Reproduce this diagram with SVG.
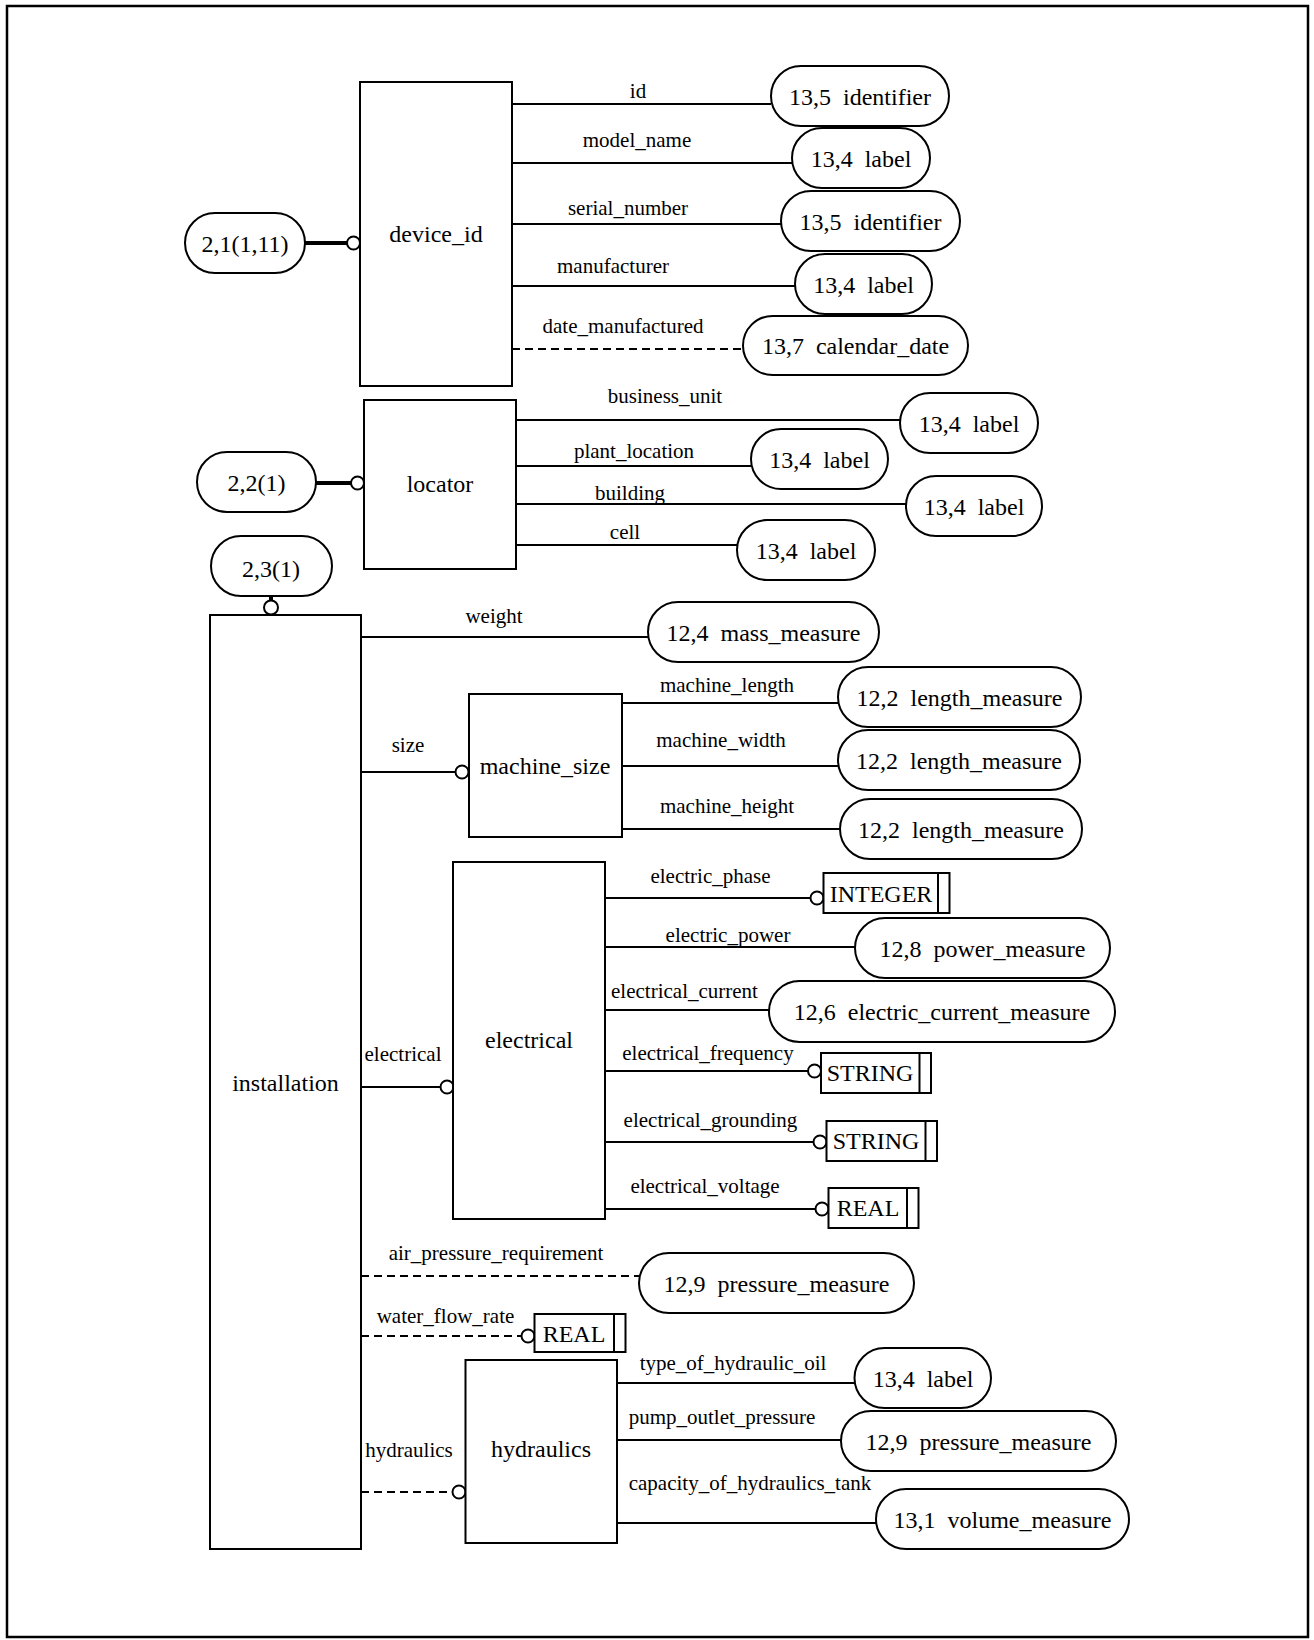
<svg xmlns="http://www.w3.org/2000/svg" width="1314" height="1640" viewBox="0 0 1314 1640">
  <style>
    .frame { fill: none; stroke: #000; stroke-width: 2.5; }
    .box { fill: #fff; stroke: #000; stroke-width: 2; }
    .ln { fill: none; stroke: #000; stroke-width: 2; }
    .dash { stroke-dasharray: 8 5; }
    .thick { stroke-width: 4; }
    .dot { fill: #fff; stroke: #000; stroke-width: 2; }
    text { font-family: "Liberation Serif", "Times New Roman", serif; fill: #000; text-anchor: middle; }
    .nm { font-size: 24px; }
    .lbl { font-size: 21px; }
  </style>

  <rect class="frame" x="7" y="6" width="1301" height="1631"/>

  <!-- relationship lines and attribute labels -->
  <g id="connectors">
    <!-- device_id -->
    <line class="ln thick" x1="305" y1="243" x2="350" y2="243"/>
    <line class="ln" x1="512" y1="104" x2="771" y2="104"/>
    <line class="ln" x1="512" y1="163" x2="792" y2="163"/>
    <line class="ln" x1="512" y1="224" x2="781" y2="224"/>
    <line class="ln" x1="512" y1="286" x2="795" y2="286"/>
    <line class="ln dash" x1="512" y1="349" x2="743" y2="349"/>
    <text class="lbl" x="638" y="98">id</text>
    <text class="lbl" x="637" y="147">model_name</text>
    <text class="lbl" x="628" y="215">serial_number</text>
    <text class="lbl" x="613" y="273">manufacturer</text>
    <text class="lbl" x="623" y="333">date_manufactured</text>
    <circle class="dot" cx="353.5" cy="243" r="6.5"/>

    <!-- locator -->
    <line class="ln thick" x1="316" y1="483" x2="354" y2="483"/>
    <line class="ln" x1="516" y1="420" x2="900" y2="420"/>
    <line class="ln" x1="516" y1="466" x2="751" y2="466"/>
    <line class="ln" x1="516" y1="504" x2="906" y2="504"/>
    <line class="ln" x1="516" y1="545" x2="737" y2="545"/>
    <text class="lbl" x="665" y="403">business_unit</text>
    <text class="lbl" x="634" y="458">plant_location</text>
    <text class="lbl" x="630" y="500">building</text>
    <text class="lbl" x="625" y="539">cell</text>
    <circle class="dot" cx="357.5" cy="483" r="6.5"/>

    <!-- installation -->
    <line class="ln thick" x1="271" y1="596" x2="271" y2="602"/>
    <circle class="dot" cx="271" cy="607.5" r="7"/>
    <line class="ln" x1="361" y1="637" x2="648" y2="637"/>
    <text class="lbl" x="494" y="623">weight</text>
    <line class="ln" x1="361" y1="772" x2="462" y2="772"/>
    <circle class="dot" cx="462" cy="772" r="6.5"/>
    <text class="lbl" x="408" y="752">size</text>
    <line class="ln" x1="361" y1="1087" x2="447" y2="1087"/>
    <circle class="dot" cx="447" cy="1087" r="6.5"/>
    <text class="lbl" x="403" y="1061">electrical</text>
    <line class="ln dash" x1="361" y1="1276" x2="639" y2="1276"/>
    <text class="lbl" x="496" y="1260">air_pressure_requirement</text>
    <line class="ln dash" x1="361" y1="1336" x2="528" y2="1336"/>
    <circle class="dot" cx="528" cy="1336" r="6.5"/>
    <text class="lbl" x="445.5" y="1323">water_flow_rate</text>
    <line class="ln dash" x1="361" y1="1492" x2="459" y2="1492"/>
    <circle class="dot" cx="459" cy="1492" r="6.5"/>
    <text class="lbl" x="409" y="1457">hydraulics</text>

    <!-- machine_size -->
    <line class="ln" x1="622" y1="703" x2="838" y2="703"/>
    <line class="ln" x1="622" y1="766" x2="838" y2="766"/>
    <line class="ln" x1="622" y1="829" x2="840" y2="829"/>
    <text class="lbl" x="727" y="692">machine_length</text>
    <text class="lbl" x="721" y="747">machine_width</text>
    <text class="lbl" x="727" y="813">machine_height</text>

    <!-- electrical -->
    <line class="ln" x1="605" y1="898" x2="817" y2="898"/>
    <circle class="dot" cx="817" cy="898" r="6.5"/>
    <line class="ln" x1="605" y1="947" x2="855" y2="947"/>
    <line class="ln" x1="605" y1="1010" x2="769" y2="1010"/>
    <line class="ln" x1="605" y1="1071" x2="814.5" y2="1071"/>
    <circle class="dot" cx="814.5" cy="1071" r="6.5"/>
    <line class="ln" x1="605" y1="1142" x2="820" y2="1142"/>
    <circle class="dot" cx="820" cy="1142" r="6.5"/>
    <line class="ln" x1="605" y1="1209" x2="822" y2="1209"/>
    <circle class="dot" cx="822" cy="1209" r="6.5"/>
    <text class="lbl" x="710.5" y="883">electric_phase</text>
    <text class="lbl" x="728" y="942">electric_power</text>
    <text class="lbl" x="684.5" y="998">electrical_current</text>
    <text class="lbl" x="708" y="1060">electrical_frequency</text>
    <text class="lbl" x="710.5" y="1127">electrical_grounding</text>
    <text class="lbl" x="705" y="1193">electrical_voltage</text>

    <!-- hydraulics -->
    <line class="ln" x1="617" y1="1383" x2="854.5" y2="1383"/>
    <line class="ln" x1="617" y1="1440" x2="841" y2="1440"/>
    <line class="ln" x1="617" y1="1523" x2="876" y2="1523"/>
    <text class="lbl" x="733" y="1370">type_of_hydraulic_oil</text>
    <text class="lbl" x="722" y="1424">pump_outlet_pressure</text>
    <text class="lbl" x="750" y="1490">capacity_of_hydraulics_tank</text>
  </g>

  <!-- entities -->
  <g id="device_id">
    <rect class="box" x="360" y="82" width="152" height="304"/>
    <text class="nm" x="436" y="242">device_id</text>
  </g>
  <g id="locator">
    <rect class="box" x="364" y="400" width="152" height="169"/>
    <text class="nm" x="440" y="492">locator</text>
  </g>
  <g id="installation">
    <rect class="box" x="210" y="615" width="151" height="934"/>
    <text class="nm" x="285.5" y="1091">installation</text>
  </g>
  <g id="machine_size">
    <rect class="box" x="469" y="694" width="153" height="143"/>
    <text class="nm" x="545" y="774">machine_size</text>
  </g>
  <g id="electrical">
    <rect class="box" x="453" y="862" width="152" height="357"/>
    <text class="nm" x="529" y="1048">electrical</text>
  </g>
  <g id="hydraulics">
    <rect class="box" x="465.5" y="1360" width="151.5" height="183"/>
    <text class="nm" x="541" y="1457">hydraulics</text>
  </g>

  <!-- page references -->
  <g id="ref-2-1">
    <rect class="box" x="185" y="213" width="120" height="60" rx="30"/>
    <text class="nm" x="245" y="251.5">2,1(1,11)</text>
  </g>
  <g id="ref-2-2">
    <rect class="box" x="197" y="452" width="119" height="60" rx="30"/>
    <text class="nm" x="256.5" y="490.5">2,2(1)</text>
  </g>
  <g id="ref-2-3">
    <rect class="box" x="211" y="536" width="121" height="60" rx="30"/>
    <text class="nm" x="271" y="576.5">2,3(1)</text>
  </g>

  <!-- defined types -->
  <g id="type-id">
    <rect class="box" x="771" y="66" width="178" height="60" rx="30"/>
    <text class="nm" x="860" y="104.5">13,5&#160; identifier</text>
  </g>
  <g id="type-model_name">
    <rect class="box" x="792" y="128" width="138" height="60" rx="30"/>
    <text class="nm" x="861" y="166.5">13,4&#160; label</text>
  </g>
  <g id="type-serial_number">
    <rect class="box" x="781" y="191" width="179" height="60" rx="30"/>
    <text class="nm" x="870.5" y="229.5">13,5&#160; identifier</text>
  </g>
  <g id="type-manufacturer">
    <rect class="box" x="795" y="254" width="137" height="60" rx="30"/>
    <text class="nm" x="863.5" y="292.5">13,4&#160; label</text>
  </g>
  <g id="type-date_manufactured">
    <rect class="box" x="743" y="316" width="225" height="59" rx="29.5"/>
    <text class="nm" x="855.5" y="354">13,7&#160; calendar_date</text>
  </g>

  <g id="type-business_unit">
    <rect class="box" x="900" y="393" width="138" height="60" rx="30"/>
    <text class="nm" x="969" y="431.5">13,4&#160; label</text>
  </g>
  <g id="type-plant_location">
    <rect class="box" x="751" y="429" width="137" height="60" rx="30"/>
    <text class="nm" x="819.5" y="467.5">13,4&#160; label</text>
  </g>
  <g id="type-building">
    <rect class="box" x="906" y="476" width="136" height="60" rx="30"/>
    <text class="nm" x="974" y="514.5">13,4&#160; label</text>
  </g>
  <g id="type-cell">
    <rect class="box" x="737" y="520" width="138" height="60" rx="30"/>
    <text class="nm" x="806" y="558.5">13,4&#160; label</text>
  </g>

  <g id="type-weight">
    <rect class="box" x="648" y="602" width="231" height="60" rx="30"/>
    <text class="nm" x="763.5" y="640.5">12,4&#160; mass_measure</text>
  </g>
  <g id="type-machine_length">
    <rect class="box" x="838" y="667" width="243" height="60" rx="30"/>
    <text class="nm" x="959.5" y="705.5">12,2&#160; length_measure</text>
  </g>
  <g id="type-machine_width">
    <rect class="box" x="838" y="730" width="242" height="60" rx="30"/>
    <text class="nm" x="959" y="768.5">12,2&#160; length_measure</text>
  </g>
  <g id="type-machine_height">
    <rect class="box" x="840" y="799" width="242" height="60" rx="30"/>
    <text class="nm" x="961" y="837.5">12,2&#160; length_measure</text>
  </g>

  <g id="type-electric_phase">
    <rect class="box" x="823.5" y="873" width="126" height="40"/>
    <line class="ln" x1="938" y1="873" x2="938" y2="913"/>
    <text class="nm" x="881" y="901.5">INTEGER</text>
  </g>
  <g id="type-electric_power">
    <rect class="box" x="855" y="918" width="255" height="60" rx="30"/>
    <text class="nm" x="982.5" y="956.5">12,8&#160; power_measure</text>
  </g>
  <g id="type-electrical_current">
    <rect class="box" x="769" y="981" width="346" height="61" rx="30.5"/>
    <text class="nm" x="942" y="1020">12,6&#160; electric_current_measure</text>
  </g>
  <g id="type-electrical_frequency">
    <rect class="box" x="821" y="1053" width="110" height="40"/>
    <line class="ln" x1="919.5" y1="1053" x2="919.5" y2="1093"/>
    <text class="nm" x="870" y="1081">STRING</text>
  </g>
  <g id="type-electrical_grounding">
    <rect class="box" x="826.5" y="1121" width="110.5" height="40"/>
    <line class="ln" x1="925.5" y1="1121" x2="925.5" y2="1161"/>
    <text class="nm" x="876" y="1149">STRING</text>
  </g>
  <g id="type-electrical_voltage">
    <rect class="box" x="828.5" y="1188" width="90" height="40"/>
    <line class="ln" x1="907" y1="1188" x2="907" y2="1228"/>
    <text class="nm" x="868" y="1216">REAL</text>
  </g>

  <g id="type-air_pressure_requirement">
    <rect class="box" x="639" y="1253" width="275" height="60" rx="30"/>
    <text class="nm" x="776.5" y="1291.5">12,9&#160; pressure_measure</text>
  </g>
  <g id="type-water_flow_rate">
    <rect class="box" x="534.5" y="1314" width="91" height="38"/>
    <line class="ln" x1="614" y1="1314" x2="614" y2="1352"/>
    <text class="nm" x="574" y="1341.5">REAL</text>
  </g>

  <g id="type-type_of_hydraulic_oil">
    <rect class="box" x="854.5" y="1348" width="136.5" height="60" rx="30"/>
    <text class="nm" x="923" y="1386.5">13,4&#160; label</text>
  </g>
  <g id="type-pump_outlet_pressure">
    <rect class="box" x="841" y="1411" width="275" height="60" rx="30"/>
    <text class="nm" x="978.5" y="1449.5">12,9&#160; pressure_measure</text>
  </g>
  <g id="type-capacity_of_hydraulics_tank">
    <rect class="box" x="876" y="1489" width="253" height="60" rx="30"/>
    <text class="nm" x="1002.5" y="1527.5">13,1&#160; volume_measure</text>
  </g>
</svg>
